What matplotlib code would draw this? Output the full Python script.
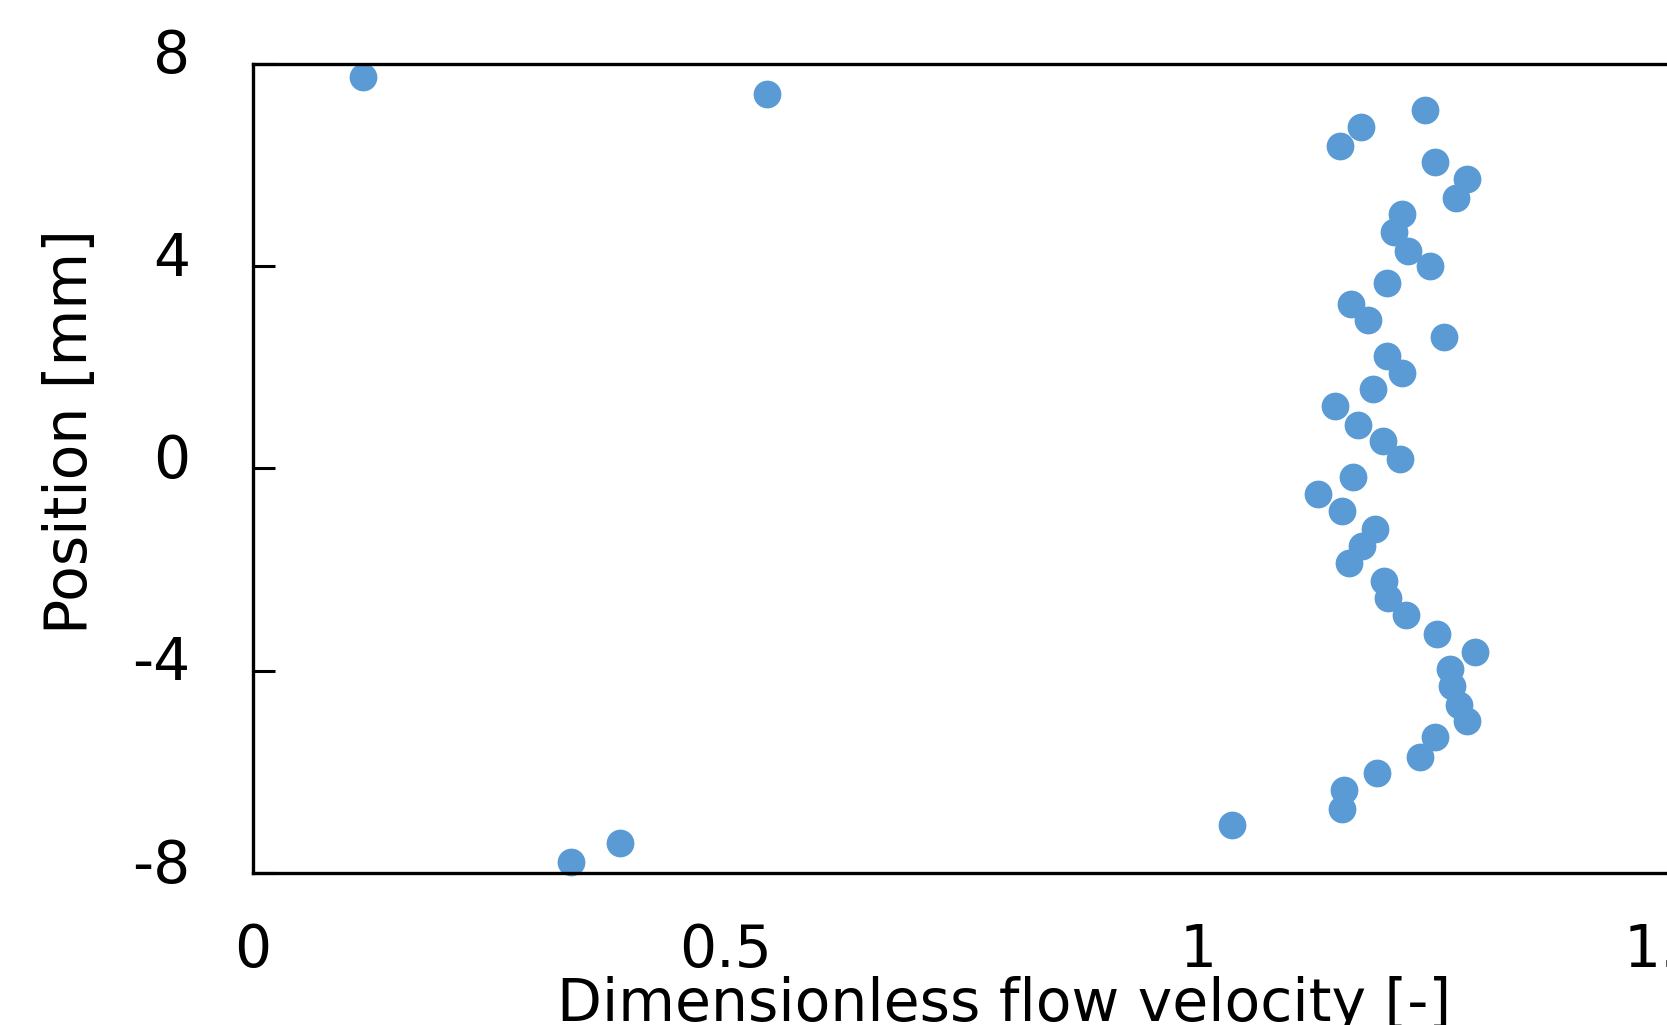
import matplotlib
matplotlib.use("Agg")
import matplotlib.pyplot as plt
import matplotlib.transforms as mtransforms

plt.rcParams['font.family'] = ['DejaVu Sans']
plt.rcParams['axes.unicode_minus'] = False

velocity = [0.116, 0.544, 1.241, 1.173, 1.151, 1.251, 1.285, 1.273, 1.216, 1.208,
            1.223, 1.246, 1.200, 1.162, 1.180, 1.261, 1.200, 1.216, 1.186, 1.145,
            1.170, 1.196, 1.214, 1.164, 1.127, 1.153, 1.188, 1.174, 1.160, 1.197,
            1.202, 1.221, 1.253, 1.294, 1.267, 1.269, 1.277, 1.285, 1.251, 1.235,
            1.190, 1.155, 1.153, 1.036, 0.388, 0.337]
position = [7.74, 7.40, 7.09, 6.75, 6.37, 6.06, 5.72, 5.34, 5.03, 4.67,
            4.31, 4.00, 3.66, 3.26, 2.94, 2.61, 2.23, 1.89, 1.58, 1.24,
            0.86, 0.55, 0.19, -0.17, -0.50, -0.84, -1.20, -1.53, -1.87, -2.23,
            -2.57, -2.90, -3.28, -3.62, -3.97, -4.31, -4.67, -5.00, -5.32, -5.70,
            -6.03, -6.35, -6.73, -7.06, -7.40, -7.78]

x_ticks = [0, 0.5, 1, 1.5]
x_tick_labels = ["0", "0.5", "1", "1.5"]
y_ticks = [-8, -4, 0, 4, 8]
y_tick_labels = ["-8", "-4", "0", "4", "8"]

fig = plt.figure(figsize=(16.67, 10.25), dpi=100)
ax = fig.add_axes([253/1667, 1 - 873/1025, 1417/1667, 809/1025])

ax.plot(velocity, position, linestyle='none', marker='o', markersize=20,
        color='#5B9BD5', markeredgewidth=0, clip_on=False)

ax.set_xlim(0, 1.5)
ax.set_ylim(-8, 8)
ax.set_xticks(x_ticks)
ax.set_xticklabels(x_tick_labels)
ax.set_yticks(y_ticks)
ax.set_yticklabels(y_tick_labels)

for s in ax.spines.values():
    s.set_linewidth(2.4)

ax.tick_params(axis='x', length=0, pad=35, labelsize=42)
ax.tick_params(axis='y', direction='in', length=16, width=2.2, pad=45, labelsize=42)

# y tick labels sit slightly above their ticks in the reference
offset = mtransforms.ScaledTranslation(0, 0.13, fig.dpi_scale_trans)
for lab in ax.get_yticklabels():
    lab.set_transform(lab.get_transform() + offset)

ax.set_xlabel("Dimensionless flow velocity [-]", fontsize=42)
ax.xaxis.label.set_va('top')
ax.xaxis.set_label_coords((1004 - 253) / 1417, -(976 - 873) / 809)

ax.set_ylabel("Position [mm]", fontsize=42)
ax.yaxis.label.set_va('center')
ax.yaxis.label.set_ha('center')
ax.yaxis.set_label_coords((71 - 253) / 1417, (873 - 432) / 809)

fig.savefig("out.png", dpi=100)
